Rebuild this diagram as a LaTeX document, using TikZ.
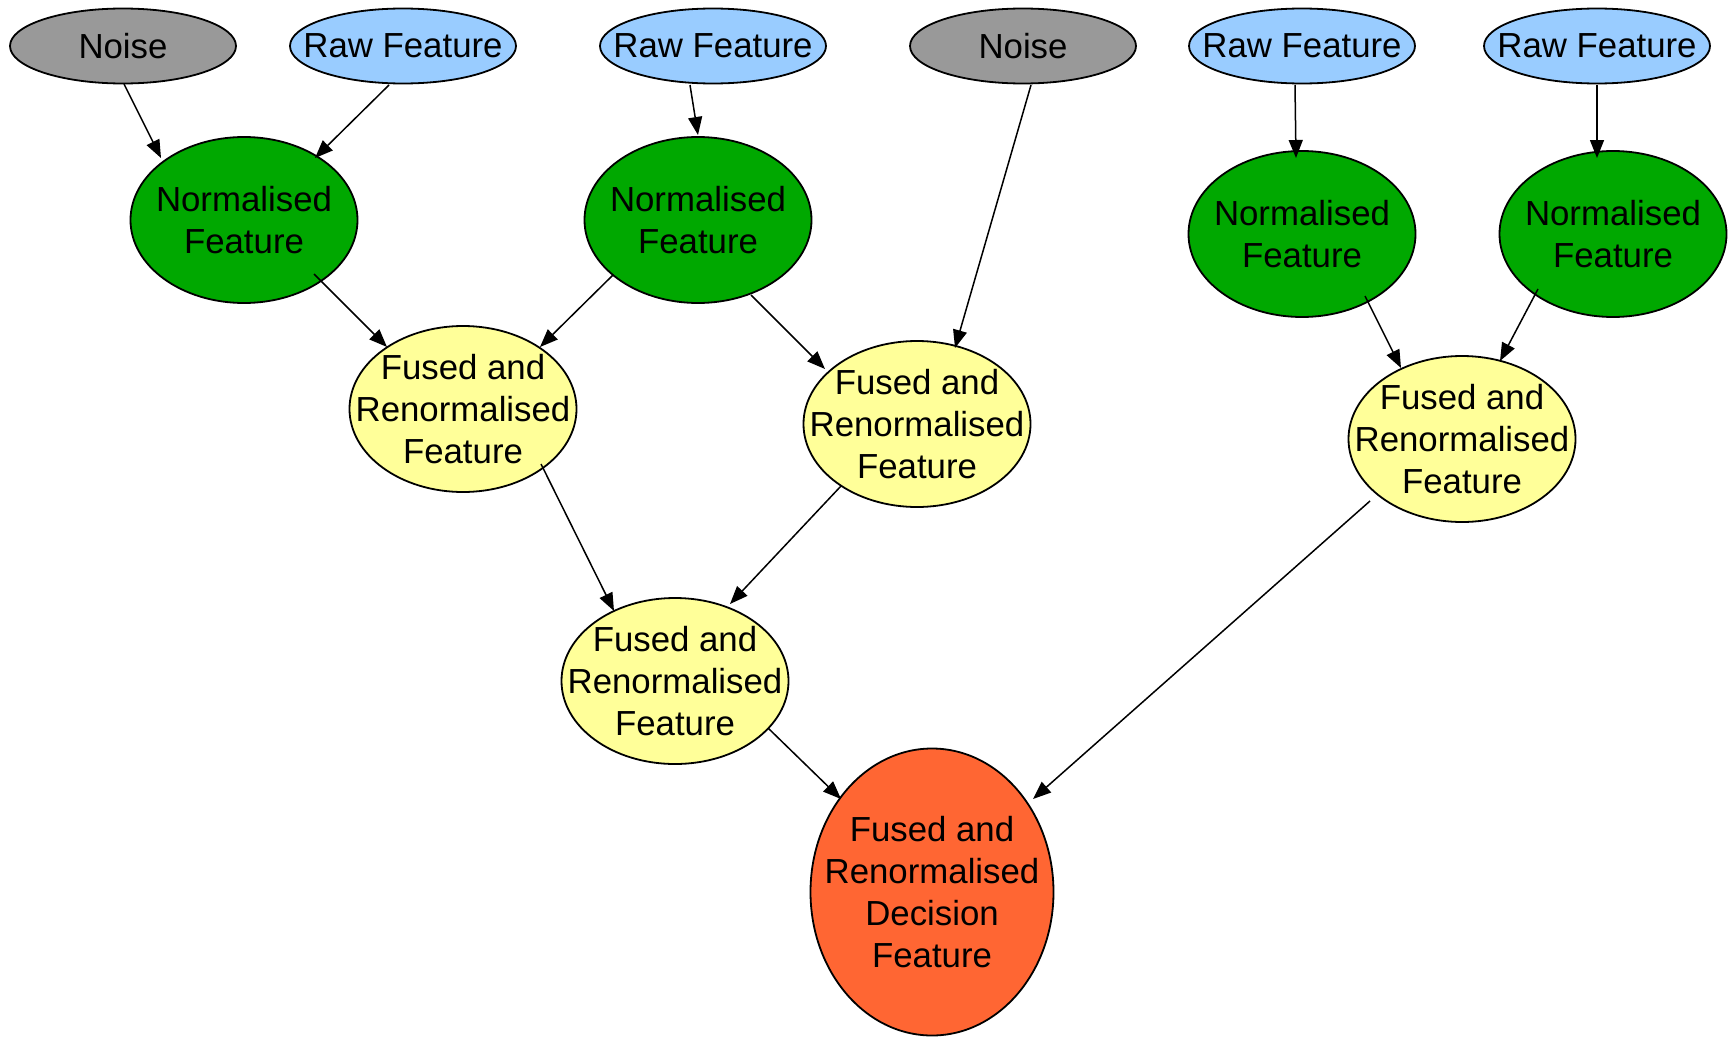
\documentclass[tikz,border=0pt]{standalone}
\usepackage{fontspec}
\setmainfont{Liberation Sans}
\usetikzlibrary{shapes.geometric,arrows.meta}
\definecolor{noisegray}{HTML}{999999}
\definecolor{rawblue}{HTML}{99CCFF}
\definecolor{normgreen}{HTML}{00A800}
\definecolor{fuseyellow}{HTML}{FFFF99}
\definecolor{decorange}{HTML}{FF6633}
\tikzset{
  base/.style={ellipse, draw=black, line width=1.8pt, inner xsep=-60pt, inner ysep=-60pt,
    align=center, font=\fontsize{34.8}{42}\selectfont, text=black},
  small/.style={base, minimum width=226pt, minimum height=75pt},
  big/.style={base, minimum width=227pt, minimum height=166pt},
  noisebox/.style={small, fill=noisegray},
  rawbox/.style={small, fill=rawblue},
  normbox/.style={big, fill=normgreen},
  fusebox/.style={big, fill=fuseyellow},
  decbox/.style={base, fill=decorange, minimum width=243pt, minimum height=287pt},
  conn/.style={line width=1.5pt, -{Triangle[length=18pt,width=14pt]}}
}
\begin{document}
\begin{tikzpicture}[x=1pt,y=-1pt]
\useasboundingbox (0,0) rectangle (1732,1036);
\node[noisebox] (noise1) at (123,46) {Noise};
\node[rawbox] (raw1) at (403,46) {Raw Feature};
\node[rawbox] (raw2) at (713,46) {Raw Feature};
\node[noisebox] (noise2) at (1023,46) {Noise};
\node[rawbox] (raw3) at (1302,46) {Raw Feature};
\node[rawbox] (raw4) at (1597,46) {Raw Feature};
\node[normbox] (norm1) at (244,220) {Normalised\\Feature};
\node[normbox] (norm2) at (698,220) {Normalised\\Feature};
\node[normbox] (norm3) at (1302,234) {Normalised\\Feature};
\node[normbox] (norm4) at (1613,234) {Normalised\\Feature};
\node[fusebox] (fused1) at (463,409) {Fused and\\Renormalised\\Feature};
\node[fusebox] (fused2) at (917,424) {Fused and\\Renormalised\\Feature};
\node[fusebox] (fused3) at (1462,439) {Fused and\\Renormalised\\Feature};
\node[fusebox] (fused4) at (675,681) {Fused and\\Renormalised\\Feature};
\node[decbox] (dec) at (932,892) {Fused and\\Renormalised\\Decision\\Feature};
\draw[conn] ([shift={(1,38)}]noise1.center) -- ([shift={(-83,-62)}]norm1.center);
\draw[conn] ([shift={(-14,39)}]raw1.center) -- ([shift={(71,-62)}]norm1.center);
\draw[conn] ([shift={(-23,39)}]raw2.center) -- ([shift={(0,-85)}]norm2.center);
\draw[conn] ([shift={(70,54)}]norm1.center) -- ([shift={(-76,-62)}]fused1.center);
\draw[conn] ([shift={(-85,55)}]norm2.center) -- ([shift={(77,-62)}]fused1.center);
\draw[conn] ([shift={(53,75)}]norm2.center) -- ([shift={(-92,-55)}]fused2.center);
\draw[conn] ([shift={(8,39)}]noise2.center) -- ([shift={(38,-76)}]fused2.center);
\draw[conn] ([shift={(-7,39)}]raw3.center) -- ([shift={(-6,-76)}]norm3.center);
\draw[conn] ([shift={(0,39)}]raw4.center) -- ([shift={(-16,-76)}]norm4.center);
\draw[conn] ([shift={(63,62)}]norm3.center) -- ([shift={(-61,-71)}]fused3.center);
\draw[conn] ([shift={(-75,55)}]norm4.center) -- ([shift={(38,-78)}]fused3.center);
\draw[conn] ([shift={(78,55)}]fused1.center) -- ([shift={(-61,-70)}]fused4.center);
\draw[conn] ([shift={(-76,62)}]fused2.center) -- ([shift={(55,-77)}]fused4.center);
\draw[conn] ([shift={(93,47)}]fused4.center) -- ([shift={(-91,-93)}]dec.center);
\draw[conn] ([shift={(-92,62)}]fused3.center) -- ([shift={(101,-93)}]dec.center);
\end{tikzpicture}
\end{document}
